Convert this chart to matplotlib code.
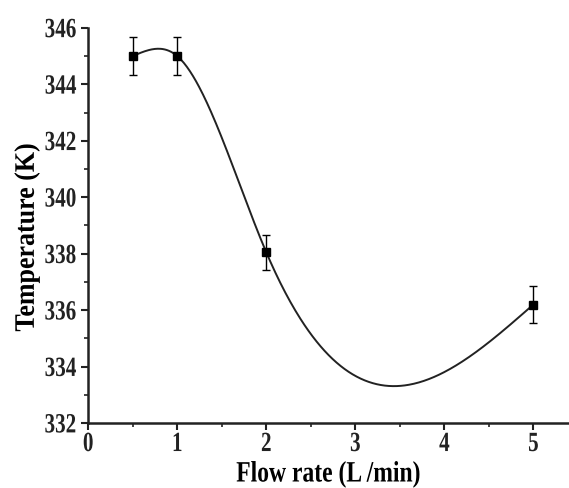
import numpy as np
import matplotlib
matplotlib.use('Agg')
import matplotlib.pyplot as plt
from matplotlib.ticker import MultipleLocator
from matplotlib.patheffects import AbstractPathEffect
from matplotlib.transforms import Affine2D

# ---- data ----
flow_rate   = [0.5, 1.0, 2.0, 5.0]          # L/min
temperature = [345.0, 345.0, 338.05, 336.2]  # K
temp_err    = [0.68, 0.68, 0.62, 0.65]


def natural_spline(x, y, n=400):
    """Natural cubic spline through the points (same look as Origin 'spline' line)."""
    x = np.asarray(x, float)
    y = np.asarray(y, float)
    k = len(x)
    h = np.diff(x)
    A = np.zeros((k, k))
    r = np.zeros(k)
    A[0, 0] = A[-1, -1] = 1.0
    for i in range(1, k - 1):
        A[i, i - 1] = h[i - 1]
        A[i, i]     = 2 * (h[i - 1] + h[i])
        A[i, i + 1] = h[i]
        r[i] = 6 * ((y[i + 1] - y[i]) / h[i] - (y[i] - y[i - 1]) / h[i - 1])
    M = np.linalg.solve(A, r)
    xs = np.linspace(x[0], x[-1], n)
    idx = np.clip(np.searchsorted(x, xs) - 1, 0, k - 2)
    x0, x1 = x[idx], x[idx + 1]
    hh = x1 - x0
    ys = (M[idx] * (x1 - xs) ** 3 / (6 * hh) + M[idx + 1] * (xs - x0) ** 3 / (6 * hh)
          + (y[idx] / hh - M[idx] * hh / 6) * (x1 - xs)
          + (y[idx + 1] / hh - M[idx + 1] * hh / 6) * (xs - x0))
    return xs, ys


class Stretch(AbstractPathEffect):
    """Scale drawn text about its centre (the reference font looks condensed/tall)."""
    def __init__(self, sx=1.0, sy=1.0):
        super().__init__()
        self.sx, self.sy = sx, sy

    def draw_path(self, renderer, gc, tpath, affine, rgbFace=None):
        ext = tpath.get_extents(affine)
        cx, cy = (ext.x0 + ext.x1) / 2, (ext.y0 + ext.y1) / 2
        t = affine + Affine2D().translate(-cx, -cy).scale(self.sx, self.sy).translate(cx, cy)
        renderer.draw_path(gc, tpath, t, rgbFace)


plt.rcParams['font.family'] = ['Liberation Serif', 'DejaVu Serif']
plt.rcParams['font.weight'] = 'bold'

fig = plt.figure(figsize=(5.69, 4.88), dpi=100)
ax = fig.add_axes([0.155, 0.133, 0.845, 0.81])

xs, ys = natural_spline(flow_rate, temperature)
ax.plot(xs, ys, color='#222222', lw=1.4, zorder=2)
ax.errorbar(flow_rate, temperature, yerr=temp_err, fmt='s', color='black',
            ms=6, elinewidth=1.0, capsize=3, capthick=1.0, zorder=3)

ax.set_xlim(0, 5.4)
ax.set_ylim(332, 346)
ax.xaxis.set_major_locator(MultipleLocator(1))
ax.xaxis.set_minor_locator(MultipleLocator(0.5))
ax.yaxis.set_major_locator(MultipleLocator(2))
ax.yaxis.set_minor_locator(MultipleLocator(1))

for side in ('top', 'right'):
    ax.spines[side].set_visible(False)
for side in ('left', 'bottom'):
    ax.spines[side].set_linewidth(1.8)
    ax.spines[side].set_color('#222222')

ax.tick_params(which='major', direction='out', length=5, width=1.5,
               labelsize=16, colors='#222222', pad=3)
ax.tick_params(which='minor', direction='out', length=3, width=1.2, colors='#222222')

tall = [Stretch(sx=0.95, sy=1.25)]
for lab in ax.get_xticklabels() + ax.get_yticklabels():
    lab.set_path_effects(tall)

ax.set_xlabel('Flow rate (L /min)', fontsize=17, fontweight='bold', labelpad=7,
              path_effects=[Stretch(sx=1.0, sy=1.25)])
ax.set_ylabel('Temperature (K)', fontsize=17, fontweight='bold',
              path_effects=[Stretch(sx=1.2, sy=1.1)])
ax.yaxis.set_label_coords(-0.105, 0.47)

fig.savefig('out.png', dpi=100)
